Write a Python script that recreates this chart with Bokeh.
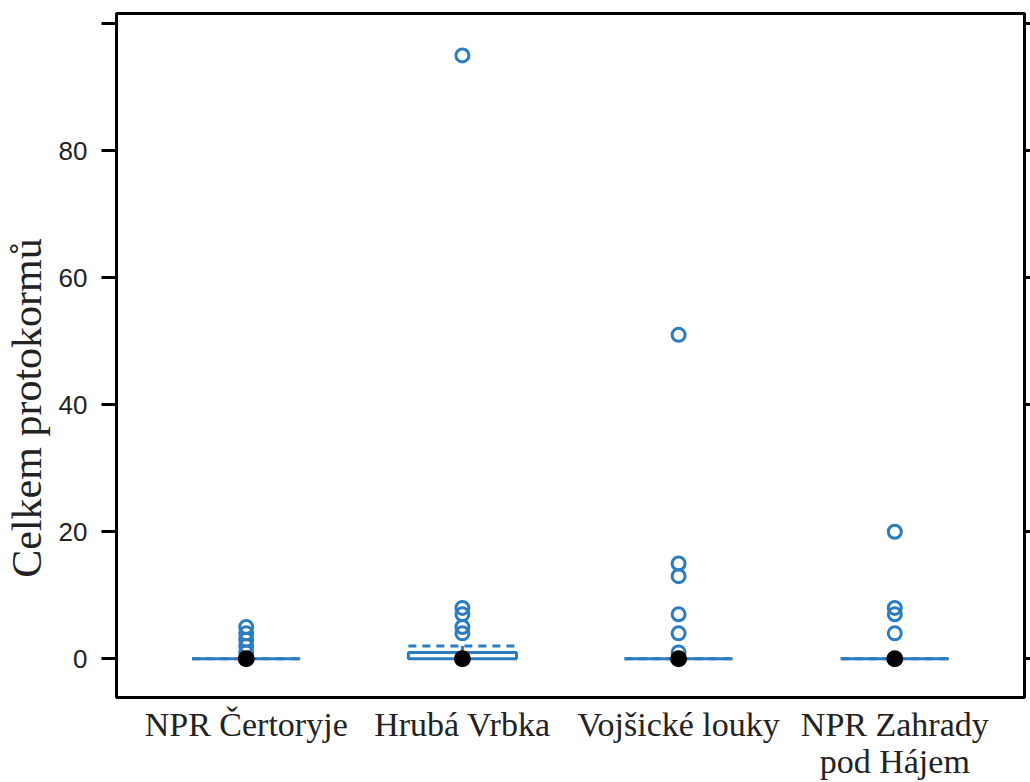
from bokeh.plotting import figure
from bokeh.models import Range1d, LinearAxis, FixedTicker, ColumnDataSource
from bokeh.embed import file_html
from bokeh.resources import INLINE

# Sites and box-plot statistics of total protocorm counts
categories = ["NPR Čertoryje", "Hrubá Vrbka", "Vojšické louky", "NPR Zahrady\npod Hájem"]
q1 = [0, 0, 0, 0]
median = [0, 0, 0, 0]
q3 = [0, 1, 0, 0]
whisker_lo = [0, 0, 0, 0]
whisker_hi = [0, 2, 0, 0]
outliers = [
    [1, 2, 3, 4, 5],
    [4, 5, 7, 8, 95],
    [1, 4, 7, 13, 15, 51],
    [4, 7, 8, 20],
]
y_ticks = [0, 20, 40, 60, 80, 100]
y_title = "Celkem protokormů"

BLUE = "#2a7bbf"
BOX_HALF = 0.25
NBSP = "\u00a0"

xs = list(range(1, len(categories) + 1))

p = figure(
    frame_width=908, frame_height=684,
    x_range=Range1d(0.4, 4.6), y_range=Range1d(-6.1, 101.6),
    output_backend="svg", toolbar_location=None,
    min_border_left=116, min_border_right=6, min_border_top=13, min_border_bottom=85,
)
p.xgrid.visible = False
p.ygrid.visible = False
p.outline_line_color = "black"
p.outline_line_width = 3
p.background_fill_color = "white"
p.border_fill_color = "white"

# left axis with numeric ticks; the title is padded so it sits a little below centre
ya = p.yaxis[0]
ya.ticker = FixedTicker(ticks=y_ticks)
ya.major_label_overrides = {100: ""}
ya.axis_line_color = "black"
ya.axis_line_width = 3
ya.major_tick_line_width = 3
ya.major_tick_out = 15
ya.major_tick_in = 0
ya.minor_tick_line_color = None
ya.major_label_text_font = "Liberation Sans"
ya.major_label_text_font_size = "26px"
ya.major_label_text_color = "#222222"
ya.major_label_standoff = 14
ya.axis_label = y_title + NBSP * 10
ya.axis_label_text_font = "Liberation Serif"
ya.axis_label_text_font_size = "42px"
ya.axis_label_text_font_style = "normal"
ya.axis_label_text_color = "#222222"
ya.axis_label_standoff = 6

# right axis: ticks only
ra = LinearAxis(ticker=FixedTicker(ticks=y_ticks))
ra.major_label_overrides = {t: "" for t in y_ticks}
ra.major_label_text_color = None
ra.major_label_standoff = 0
ra.axis_line_color = "black"
ra.axis_line_width = 3
ra.major_tick_line_width = 3
ra.major_tick_out = 8
ra.major_tick_in = 0
ra.minor_tick_line_color = None
p.add_layout(ra, "right")

# bottom axis with site names
xa = p.xaxis[0]
xa.ticker = FixedTicker(ticks=xs)
xa.major_label_overrides = {x: c for x, c in zip(xs, categories)}
xa.axis_line_color = None
xa.major_tick_line_color = None
xa.minor_tick_line_color = None
xa.major_label_text_font = "Liberation Serif"
xa.major_label_text_font_size = "34px"
xa.major_label_text_line_height = 1.0
xa.major_label_text_color = "#222222"
xa.major_label_standoff = 2

box_src = ColumnDataSource(dict(
    left=[x - BOX_HALF for x in xs], right=[x + BOX_HALF for x in xs],
    x=xs, q1=q1, q3=q3, med=median, lo=whisker_lo, hi=whisker_hi,
))

# whiskers and the dashed upper cap
p.segment(x0="x", y0="q3", x1="x", y1="hi", source=box_src, line_color=BLUE, line_width=3)
p.segment(x0="x", y0="q1", x1="x", y1="lo", source=box_src, line_color=BLUE, line_width=3)
p.segment(x0="left", y0="hi", x1="right", y1="hi", source=box_src,
          line_color=BLUE, line_width=3, line_dash="8 6")

# boxes
p.quad(left="left", right="right", bottom="q1", top="q3", source=box_src,
       fill_color="white", line_color=BLUE, line_width=3)

# outliers
ox, oy = [], []
for x, vals in zip(xs, outliers):
    for v in vals:
        ox.append(x)
        oy.append(v)
p.scatter(ox, oy, marker="circle", size=13, fill_color=None, line_color=BLUE, line_width=3)

# medians
p.scatter(x="x", y="med", source=box_src, marker="circle", size=17,
          fill_color="black", line_color=None)

open("out.html", "w").write(file_html(p, INLINE))
